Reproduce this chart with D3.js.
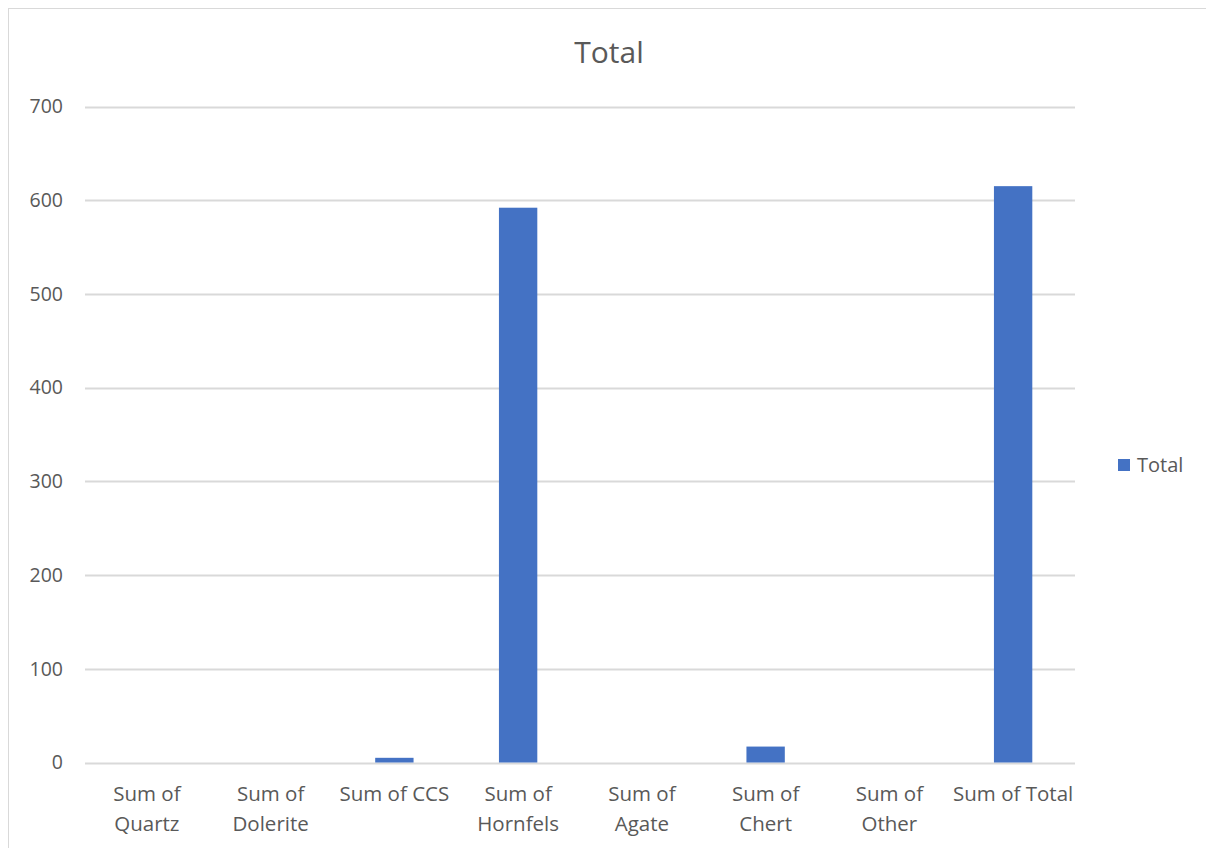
<!DOCTYPE html>
<html>
<head>
<meta charset="utf-8">
<script src="https://cdn.jsdelivr.net/npm/d3@7"></script>
<style>
  html, body { margin: 0; padding: 0; background: #fff; }
  svg { display: block; }
</style>
</head>
<body>
<svg id="chart" width="1206" height="848"></svg>
<script>
// Category names, shown on two lines under each bar
const categories = ["Sum of Quartz", "Sum of Dolerite", "Sum of CCS", "Sum of Hornfels",
                    "Sum of Agate", "Sum of Chert", "Sum of Other", "Sum of Total"];
const categoryLines = [["Sum of", "Quartz"], ["Sum of", "Dolerite"], ["Sum of CCS"], ["Sum of", "Hornfels"],
                       ["Sum of", "Agate"], ["Sum of", "Chert"], ["Sum of", "Other"], ["Sum of Total"]];
const totals = [0, 0, 5, 592, 0, 17, 0, 615];
const yTicks = [0, 100, 200, 300, 400, 500, 600, 700];
const seriesName = "Total";

const font = "'Open Sans', 'Noto Sans', sans-serif";
const svg = d3.select("#chart");

// chart frame
svg.append("rect").attr("x", 8.5).attr("y", 8.5).attr("width", 1206).attr("height", 848)
  .attr("fill", "#fff").attr("stroke", "#d9d9d9").attr("stroke-width", 1);

const plot = { left: 85, right: 1075, top: 106.5, bottom: 762.5 };

const x = d3.scaleBand().domain(categories).range([plot.left, plot.right])
  .paddingInner(0.69).paddingOuter(0.345);
const y = d3.scaleLinear().domain([0, 700]).range([plot.bottom, plot.top]);

// horizontal gridlines
svg.append("g").selectAll("line").data(yTicks).join("line")
  .attr("x1", plot.left).attr("x2", plot.right)
  .attr("y1", d => Math.round(y(d)) + 0.5).attr("y2", d => Math.round(y(d)) + 0.5)
  .attr("stroke", "#d9d9d9").attr("stroke-width", 2);

// y axis labels
const yAxis = d3.axisLeft(y).tickValues(yTicks).tickSize(0).tickPadding(0);
svg.append("g").attr("transform", `translate(63,0)`).call(yAxis)
  .call(g => g.select(".domain").remove())
  .call(g => g.selectAll("text").attr("fill", "#595959").attr("font-size", 19.5)
    .attr("font-family", font));

// bars
svg.append("g").selectAll("rect").data(categories).join("rect")
  .attr("x", d => x(d))
  .attr("width", x.bandwidth())
  .attr("y", (d, i) => y(totals[i]))
  .attr("height", (d, i) => y(0) - y(totals[i]))
  .attr("fill", "#4472c4");

// category labels
const xl = svg.append("g").selectAll("text").data(categories).join("text")
  .attr("x", d => x(d) + x.bandwidth() / 2)
  .attr("y", 801)
  .attr("text-anchor", "middle")
  .attr("fill", "#595959").attr("font-size", 20.5).attr("font-family", font);
xl.each(function(d, i) {
  d3.select(this).selectAll("tspan").data(categoryLines[i]).join("tspan")
    .attr("x", x(d) + x.bandwidth() / 2)
    .attr("dy", (t, j) => j === 0 ? 0 : 30)
    .text(t => t);
});

// title
svg.append("text").attr("x", 609).attr("y", 63).attr("text-anchor", "middle")
  .attr("fill", "#595959").attr("font-size", 30).attr("font-family", font)
  .text(seriesName);

// legend
svg.append("rect").attr("x", 1118).attr("y", 459).attr("width", 12).attr("height", 12)
  .attr("fill", "#4472c4");
svg.append("text").attr("x", 1137).attr("y", 471.5).attr("fill", "#595959")
  .attr("font-size", 20).attr("font-family", font).text(seriesName);
</script>
</body>
</html>
